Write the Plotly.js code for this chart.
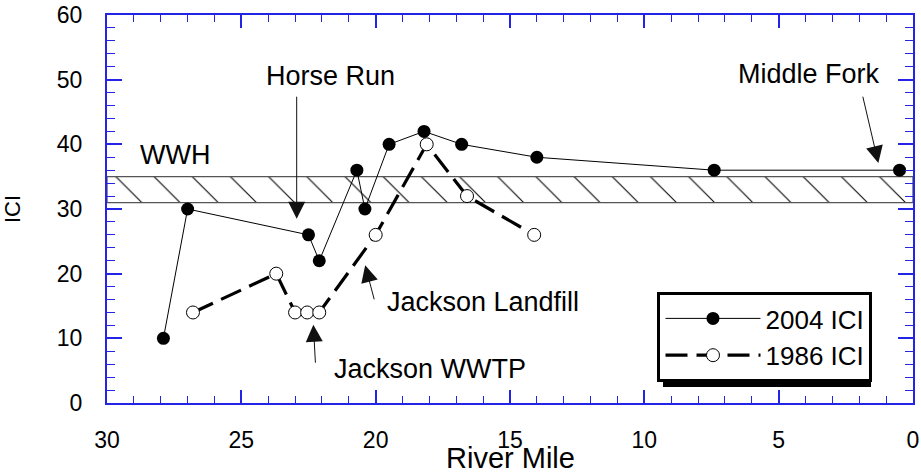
<!DOCTYPE html>
<html>
<head>
<meta charset="utf-8">
<script src="https://cdn.plot.ly/plotly-3.0.1.min.js"></script>
<style>html,body{margin:0;padding:0;background:#fff;}#chart{width:921px;height:476px;}</style>
</head>
<body>
<div id="chart"></div>
<script>
// ---- data ----
var mile2004 = [27.9, 27.0, 22.5, 22.1, 20.7, 20.4, 19.5, 18.2, 16.8, 14.0, 7.4, 0.5];
var ici2004  = [10, 30, 26, 22, 36, 30, 40, 42, 40, 38, 36, 36];
var mile1986 = [26.8, 23.7, 23.0, 22.55, 22.1, 20.0, 18.1, 16.6, 14.1];
var ici1986  = [14, 20, 14, 14, 14, 26, 40, 32, 26];
var wwhLow = 31, wwhHigh = 35;
var xTicks = [30, 25, 20, 15, 10, 5, 0];
var yTicks = [0, 10, 20, 30, 40, 50, 60];
var seriesNames = ['2004 ICI', '1986 ICI'];
var labelText = ['Horse Run', 'Middle Fork', 'Jackson Landfill', 'Jackson WWTP', 'WWH'];
var labelX = [21.67, 3.87, 15.99, 17.98, 27.47];
var labelY = [50.6, 50.8, 15.6, 5.2, 38.4];
var arrowTipX = [22.94, 1.29, 20.39, 22.32];
var arrowTipY = [28.5, 37.1, 21.3, 12.1];
var arrowTailX = [22.94, 1.88, 20.04, 22.24];
var arrowTailY = [47.6, 47.6, 15.8, 6.0];

var blue = '#2424e6';
var font = 'Arial, "Liberation Sans", sans-serif';

var band = {
  x: [30, 0, 0, 30, 30],
  y: [wwhLow, wwhLow, wwhHigh, wwhHigh, wwhLow],
  type: 'scatter', mode: 'lines', fill: 'toself',
  fillcolor: 'white',
  fillpattern: {shape: '\\', size: 27, solidity: 0.04, fgcolor: 'black', bgcolor: 'white'},
  line: {color: '#555555', width: 1.3},
  showlegend: false, hoverinfo: 'skip'
};
var t2004 = {
  x: mile2004, y: ici2004, name: seriesNames[0],
  type: 'scatter', mode: 'lines+markers',
  line: {color: 'black', width: 1},
  marker: {symbol: 'circle', size: 13, color: 'black'}
};
var t1986 = {
  x: mile1986, y: ici1986, name: seriesNames[1],
  type: 'scatter', mode: 'lines+markers',
  line: {color: 'black', width: 3.2, dash: '22px,9px'},
  marker: {symbol: 'circle', size: 13, color: 'white', line: {color: 'black', width: 1}}
};

var annotations = [];
for (var i = 0; i < arrowTipX.length; i++) {
  annotations.push({
    x: arrowTipX[i], y: arrowTipY[i], xref: 'x', yref: 'y',
    ax: arrowTailX[i], ay: arrowTailY[i], axref: 'x', ayref: 'y',
    text: '', showarrow: true, arrowhead: 2, arrowsize: 3.4, arrowwidth: 1,
    arrowcolor: '#111', standoff: 0
  });
}
for (var j = 0; j < labelText.length; j++) {
  annotations.push({
    x: labelX[j], y: labelY[j], xref: 'x', yref: 'y',
    text: labelText[j], showarrow: false,
    font: {family: font, size: 27, color: 'black'},
    xanchor: 'center', yanchor: 'middle'
  });
}
annotations.push({
  x: 0.5, y: 0, xref: 'paper', yref: 'paper', text: 'River Mile', showarrow: false,
  font: {family: font, size: 29, color: 'black'}, xanchor: 'center', yanchor: 'middle', yshift: -55
});

var layout = {
  width: 921, height: 476,
  margin: {l: 107, r: 8, t: 15, b: 73},
  font: {family: font, color: 'black'},
  showlegend: true,
  legend: {
    x: 0.683, y: 0.2861, xanchor: 'left', yanchor: 'top',
    bgcolor: 'white', bordercolor: 'black', borderwidth: 3,
    font: {family: font, size: 26, color: 'black'},
    itemwidth: 95, tracegroupgap: 0
  },
  xaxis: {
    range: [30, 0], tickvals: xTicks, ticks: 'inside', ticklen: 13, tickwidth: 1.5,
    tickcolor: blue, showline: true, linecolor: blue, linewidth: 2, mirror: 'allticks',
    showgrid: false, zeroline: false, ticklabelstandoff: 15,
    tickfont: {family: font, size: 23, color: 'black'},
    minor: {dtick: 1, ticks: 'inside', ticklen: 7, tickwidth: 1, tickcolor: blue, showgrid: false}
  },
  yaxis: {
    range: [0, 60], tickvals: yTicks, ticks: 'inside', ticklen: 15, tickwidth: 1.5,
    tickcolor: blue, showline: true, linecolor: blue, linewidth: 2, mirror: 'allticks',
    showgrid: false, zeroline: false, ticklabelstandoff: 18,
    tickfont: {family: font, size: 23, color: 'black'},
    title: {text: 'ICI', font: {family: font, size: 22, color: 'black'}, standoff: 30},
    minor: {dtick: 2, ticks: 'inside', ticklen: 8, tickwidth: 1, tickcolor: blue, showgrid: false}
  },
  shapes: [{
    type: 'rect', xref: 'paper', yref: 'paper', layer: 'above',
    x0: 0.6898, x1: 0.9479, y0: 0.0412, y1: 0.2706,
    fillcolor: 'black', line: {width: 0}
  }],
  annotations: annotations
};

Plotly.newPlot('chart', [band, t2004, t1986], layout, {displayModeBar: false});
</script>
</body>
</html>
